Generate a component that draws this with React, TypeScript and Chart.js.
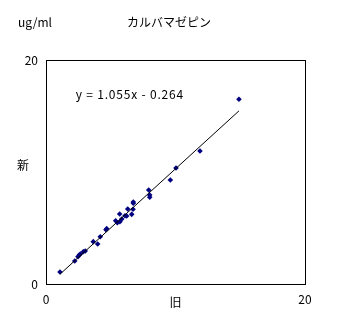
import React, { useEffect, useRef } from "react";
import { Chart, registerables } from "chart.js";

Chart.register(...registerables);

const oldValues = [1.08, 2.22, 2.47, 2.57, 2.65, 2.88, 3.03, 3.65, 3.99, 4.19, 4.63, 4.69, 5.38, 5.51, 5.71, 5.69, 5.85, 6.1, 6.23, 6.31, 6.62, 6.74, 6.74, 6.72, 7.93, 8.01, 8.01, 9.6, 10.04, 11.89, 14.9];
const newValues = [1.07, 2.05, 2.44, 2.59, 2.68, 2.88, 2.95, 3.78, 3.57, 4.22, 4.85, 4.94, 5.65, 5.47, 5.56, 6.25, 5.8, 6.1, 6.07, 6.7, 6.22, 7.21, 7.32, 6.67, 8.39, 7.95, 7.74, 9.29, 10.36, 11.88, 16.49];
const xTicks = [0, 20];
const yTicks = [0, 20];
const slope = 1.055;
const intercept = -0.264;
const trendRange = [1.08, 14.9];
const titleText = "カルバマゼピン";
const unitText = "ug/ml";
const xTitle = "旧";
const yTitle = "新";
const equationText = "y = 1.055x - 0.264";

const FONT = "12px 'Noto Sans CJK JP', 'DejaVu Sans', sans-serif";

const textPlugin = {
  id: "texts",
  afterDraw(chart: any) {
    const ctx = chart.ctx;
    const { left, top, right, bottom } = chart.chartArea;
    const xs = chart.scales.x;
    const ys = chart.scales.y;
    ctx.save();
    ctx.strokeStyle = "#000";
    ctx.lineWidth = 1;
    ctx.strokeRect(Math.round(left) + 0.5, Math.round(top) + 0.5, Math.round(right - left), Math.round(bottom - top));
    ctx.fillStyle = "#000";
    ctx.font = FONT;
    ctx.textBaseline = "middle";
    ctx.textAlign = "right";
    yTicks.forEach((v) => ctx.fillText(String(v), left - 8, ys.getPixelForValue(v)));
    ctx.textAlign = "center";
    xTicks.forEach((v) => ctx.fillText(String(v), xs.getPixelForValue(v), bottom + 15));
    ctx.fillText(xTitle, (left + right) / 2, bottom + 18);
    ctx.fillText(yTitle, 23, (top + bottom) / 2 - 7);
    ctx.textAlign = "left";
    ctx.fillText(unitText, 18, 22);
    ctx.fillText(titleText, 127, 22);
    (ctx as any).letterSpacing = "0.8px";
    ctx.fillText(equationText, xs.getPixelForValue(2.3), ys.getPixelForValue(16.9));
    ctx.restore();
  },
};

export default function App() {
  const ref = useRef<HTMLCanvasElement>(null);
  useEffect(() => {
    if (!ref.current) return;
    const points = oldValues.map((x, i) => ({ x, y: newValues[i] }));
    const trend = trendRange.map((x) => ({ x, y: slope * x + intercept }));
    const chart = new Chart(ref.current, {
      type: "scatter",
      data: {
        datasets: [
          {
            type: "line",
            data: trend,
            borderColor: "#000",
            borderWidth: 1,
            pointRadius: 0,
            fill: false,
          },
          {
            data: points,
            pointStyle: "rectRot",
            pointRadius: 2.8,
            backgroundColor: "#000080",
            borderColor: "#000080",
            borderWidth: 0,
          },
        ],
      },
      options: {
        animation: false,
        responsive: false,
        maintainAspectRatio: false,
        layout: { padding: { left: 0, top: 60, right: 32, bottom: 0 } },
        plugins: { legend: { display: false }, tooltip: { enabled: false } },
        scales: {
          x: {
            type: "linear",
            min: 0,
            max: 20,
            grid: { display: false, drawTicks: false },
            border: { display: false },
            ticks: { display: false },
            afterFit: (s: any) => { s.height = 47; },
          },
          y: {
            type: "linear",
            min: 0,
            max: 20,
            grid: { display: false, drawTicks: false },
            border: { display: false },
            ticks: { display: false },
            afterFit: (s: any) => { s.width = 46; },
          },
        },
      },
      plugins: [textPlugin],
    });
    return () => chart.destroy();
  }, []);
  return (
    <div style={{ position: "fixed", left: 0, top: 0, width: 337, height: 331, background: "#fff" }}>
      <canvas ref={ref} width={337} height={331} style={{ width: 337, height: 331 }} />
    </div>
  );
}
